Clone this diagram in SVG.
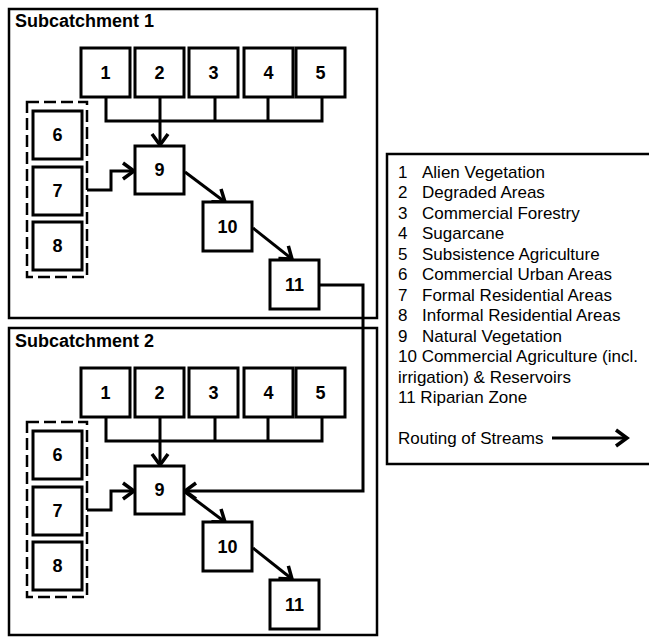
<svg xmlns="http://www.w3.org/2000/svg" width="649" height="637" viewBox="0 0 649 637">
<style>
.frame{fill:none;stroke:#000;stroke-width:2.5}
.node rect{fill:#fff;stroke:#000;stroke-width:3}
.node text{font-family:"Liberation Sans",Arial,sans-serif;font-weight:bold;font-size:18px;text-anchor:middle;fill:#000}
.title{font-family:"Liberation Sans",Arial,sans-serif;font-weight:bold;font-size:18px;fill:#000}
.dash{fill:none;stroke:#000;stroke-width:2.5;stroke-dasharray:12 5}
.conn path{fill:none;stroke:#000;stroke-width:3}
.arr{marker-end:url(#ah)}
.leg{font-family:"Liberation Sans",Arial,sans-serif;font-size:17px;fill:#000}
</style>
<defs>
<marker id="ah" markerUnits="userSpaceOnUse" viewBox="-16 -12 18 24" refX="0" refY="0" markerWidth="18" markerHeight="24" orient="auto" overflow="visible">
<path d="M-11,-8 L0,0 L-11,8" fill="none" stroke="#000" stroke-width="3.5"/>
</marker>
</defs>
<rect width="649" height="637" fill="#fff"/>

<g id="subcatchment1">
<rect class="frame" x="9" y="9" width="368" height="309"/>
<text class="title" x="15" y="27">Subcatchment 1</text>
<rect class="dash" x="27" y="102" width="60" height="175"/>
</g>
<g id="subcatchment2">
<rect class="frame" x="9" y="328" width="368" height="307"/>
<text class="title" x="15" y="347">Subcatchment 2</text>
<rect class="dash" x="27" y="422" width="60" height="175"/>
</g>

<g id="connectors" class="conn">
<path d="M106,97 V121 H322 V97 M215,97 V121 M268,97 V121"/>
<path class="arr" d="M160,97 V145"/>
<path class="arr" d="M87,190 H111 V171 H134"/>
<path class="arr" d="M185,172 L225,202"/>
<path class="arr" d="M253,228 L292,259"/>
<path class="arr" d="M319,285 H363 V491 H185"/>
<path d="M106,417 V441 H322 V417 M215,417 V441 M268,417 V441"/>
<path class="arr" d="M160,417 V465"/>
<path class="arr" d="M87,510 H111 V491 H134"/>
<path class="arr" d="M185,492 L225,522"/>
<path class="arr" d="M253,548 L292,579"/>
</g>

<g id="s1-n1" class="node"><rect x="81" y="48" width="49" height="49"/><text x="105.5" y="79">1</text></g>
<g id="s1-n2" class="node"><rect x="135" y="48" width="49" height="49"/><text x="159.5" y="79">2</text></g>
<g id="s1-n3" class="node"><rect x="189" y="48" width="49" height="49"/><text x="213.5" y="79">3</text></g>
<g id="s1-n4" class="node"><rect x="244" y="48" width="49" height="49"/><text x="268.5" y="79">4</text></g>
<g id="s1-n5" class="node"><rect x="296" y="48" width="49" height="49"/><text x="320.5" y="79">5</text></g>
<g id="s1-n6" class="node"><rect x="33" y="111" width="49" height="48"/><text x="57.5" y="141">6</text></g>
<g id="s1-n7" class="node"><rect x="33" y="167" width="49" height="48"/><text x="57.5" y="197">7</text></g>
<g id="s1-n8" class="node"><rect x="33" y="222" width="49" height="48"/><text x="57.5" y="252">8</text></g>
<g id="s1-n9" class="node"><rect x="135" y="146" width="49" height="48"/><text x="159.5" y="176">9</text></g>
<g id="s1-n10" class="node"><rect x="203" y="202" width="49" height="49"/><text x="227.5" y="233">10</text></g>
<g id="s1-n11" class="node"><rect x="270" y="260" width="49" height="49"/><text x="294.5" y="291">11</text></g>

<g id="s2-n1" class="node"><rect x="81" y="368" width="49" height="49"/><text x="105.5" y="399">1</text></g>
<g id="s2-n2" class="node"><rect x="135" y="368" width="49" height="49"/><text x="159.5" y="399">2</text></g>
<g id="s2-n3" class="node"><rect x="189" y="368" width="49" height="49"/><text x="213.5" y="399">3</text></g>
<g id="s2-n4" class="node"><rect x="244" y="368" width="49" height="49"/><text x="268.5" y="399">4</text></g>
<g id="s2-n5" class="node"><rect x="296" y="368" width="49" height="49"/><text x="320.5" y="399">5</text></g>
<g id="s2-n6" class="node"><rect x="33" y="431" width="49" height="48"/><text x="57.5" y="461">6</text></g>
<g id="s2-n7" class="node"><rect x="33" y="487" width="49" height="48"/><text x="57.5" y="517">7</text></g>
<g id="s2-n8" class="node"><rect x="33" y="542" width="49" height="48"/><text x="57.5" y="572">8</text></g>
<g id="s2-n9" class="node"><rect x="135" y="466" width="49" height="48"/><text x="159.5" y="496">9</text></g>
<g id="s2-n10" class="node"><rect x="203" y="522" width="49" height="49"/><text x="227.5" y="553">10</text></g>
<g id="s2-n11" class="node"><rect x="270" y="580" width="49" height="49"/><text x="294.5" y="611">11</text></g>

<g id="legend">
<path class="frame" d="M651,154 H387 V464 H651"/>
<text class="leg" y="177.5"><tspan x="398">1</tspan><tspan x="422">Alien Vegetation</tspan></text>
<text class="leg" y="198"><tspan x="398">2</tspan><tspan x="422">Degraded Areas</tspan></text>
<text class="leg" y="218.5"><tspan x="398">3</tspan><tspan x="422">Commercial Forestry</tspan></text>
<text class="leg" y="239"><tspan x="398">4</tspan><tspan x="422">Sugarcane</tspan></text>
<text class="leg" y="259.5"><tspan x="398">5</tspan><tspan x="422">Subsistence Agriculture</tspan></text>
<text class="leg" y="280"><tspan x="398">6</tspan><tspan x="422">Commercial Urban Areas</tspan></text>
<text class="leg" y="300.5"><tspan x="398">7</tspan><tspan x="422">Formal Residential Areas</tspan></text>
<text class="leg" y="321"><tspan x="398">8</tspan><tspan x="422">Informal Residential Areas</tspan></text>
<text class="leg" y="341.5"><tspan x="398">9</tspan><tspan x="422">Natural Vegetation</tspan></text>
<text class="leg" x="398" y="362">10 Commercial Agriculture (incl.</text>
<text class="leg" x="398" y="382.5">irrigation) &amp; Reservoirs</text>
<text class="leg" x="398" y="403">11 Riparian Zone</text>
<text class="leg" x="398" y="444">Routing of Streams</text>
<g class="conn"><path class="arr" d="M552,438 H627"/></g>
</g>
</svg>
